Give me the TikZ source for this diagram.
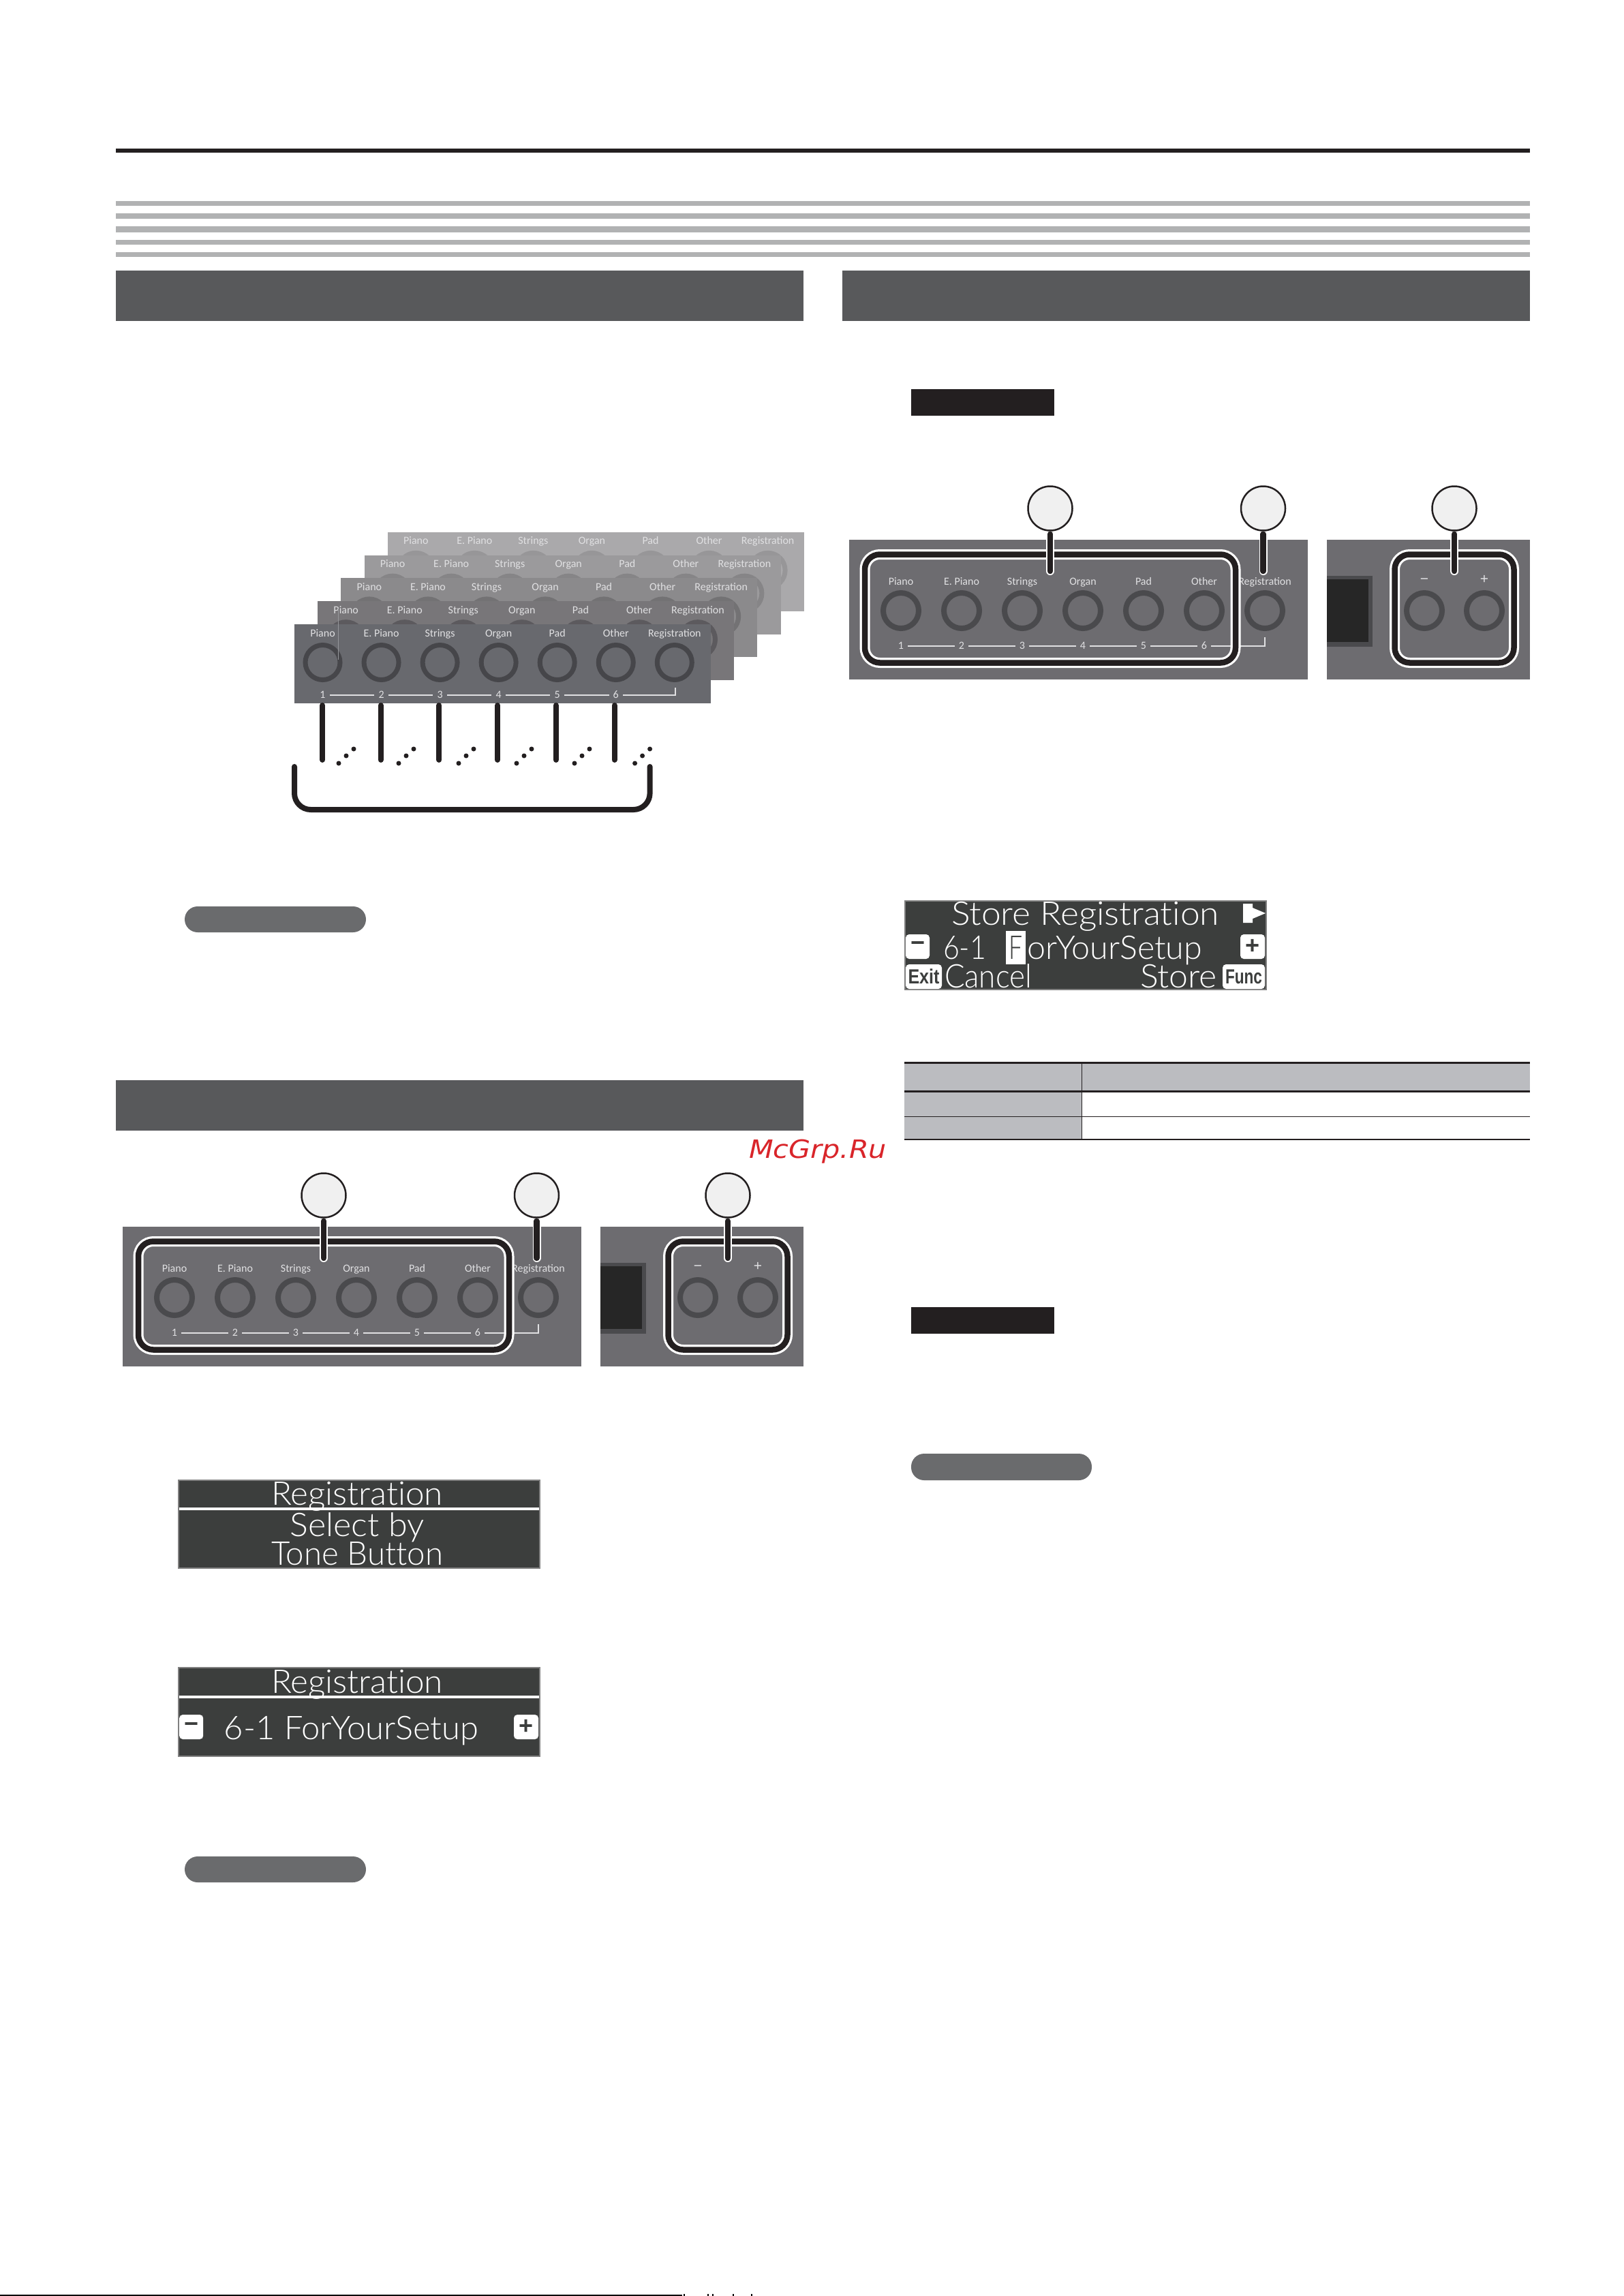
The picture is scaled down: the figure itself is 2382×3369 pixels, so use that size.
\documentclass[tikz,border=0pt]{standalone}
\usepackage{fontspec}
\setmainfont{Liberation Sans}
\newfontfamily\lcdface[UprightFont=* Light,Ligatures=NoCommon]{Lato}
\newfontfamily\panelface{Carlito}
\newfontfamily\markface{DejaVu Sans}
\definecolor{inkblack}{HTML}{231F20}
\definecolor{stripegray}{HTML}{B1B2B3}
\definecolor{barcolor}{HTML}{58595B}
\definecolor{pillcolor}{HTML}{6A6B6D}
\definecolor{panelgray}{HTML}{6D6C70}
\definecolor{ringgray}{HTML}{4A4A4D}
\definecolor{labelgray}{HTML}{E0E0E2}
\definecolor{lcdgray}{HTML}{3C3E3D}
\definecolor{tablegray}{HTML}{BBBCC0}
\definecolor{stack0}{HTML}{68696E}
\definecolor{stack1}{HTML}{787679}
\definecolor{stack2}{HTML}{8B8A8C}
\definecolor{stack3}{HTML}{9B9A9C}
\definecolor{stack4}{HTML}{AAA9AB}
\definecolor{stackring0}{HTML}{46464A}
\definecolor{stackring1}{HTML}{5C5A5E}
\definecolor{stackring2}{HTML}{737274}
\definecolor{stackring3}{HTML}{868587}
\definecolor{stackring4}{HTML}{979698}
\definecolor{markred}{HTML}{D9252A}
\usetikzlibrary{positioning}
\tikzset{
	ring/.style={line width=7pt},
	paneltext/.style={text=labelgray, inner sep=0pt, text height=11pt, text depth=3pt, font=\panelface\fontsize{16}{18}\selectfont},
	numtext/.style={paneltext, inner xsep=6pt},
	signtext/.style={paneltext, font=\fontsize{21}{22}\selectfont},
	panelline/.style={labelgray, line width=1.5pt},
	tick/.style={inkblack, line width=8pt, line cap=round},
	dotmark/.style={inkblack},
	boxwhite/.style={white, line width=15pt, rounded corners=22pt},
	boxblack/.style={inkblack, line width=8.5pt, rounded corners=22pt},
	leadwhite/.style={white, line width=12pt, line cap=round, shorten <=6pt},
	leadblack/.style={inkblack, line width=8.5pt, line cap=round, shorten <=4pt},
	callout/.style={circle, draw=inkblack, fill=gray!12, line width=2.5pt, minimum size=65pt, inner sep=0pt},
	lcdtext/.style={text=white, anchor=base, inner sep=0pt},
	lcdbadge/.style={fill=white, text=lcdgray, rounded corners=5pt, inner sep=0pt, font=\bfseries\fontsize{36}{36}\selectfont},
	lcdframe/.style={fill=lcdgray, draw=gray, line width=2pt},
}
\newcommand{\lcdtxt}[2]{\resizebox{#1pt}{\height}{\lcdface\fontsize{48}{50}\selectfont #2}}
\newcommand{\badgetxt}[2]{\resizebox{#1pt}{\height}{\bfseries\fontsize{30}{30}\selectfont #2}}
% panel with the seven buttons and the - + part, arg: x shift, y shift, name
\newcommand{\btnpanel}[3]{
	\begin{scope}[shift={(#1,#2)}]
		\fill[panelgray] (180,1800) rectangle (853,2005);
		\fill[panelgray] (881,1800) rectangle (1179,2005);
		\foreach \k/\lab in {1/Piano,2/E. Piano,3/Strings,4/Organ,5/Pad,6/Other,7/Registration} {
			\draw[line width=8pt, ringgray] ({256+(\k-1)*89},1904) circle (26);
			\node[paneltext] (#3lab\k) at ({256+(\k-1)*89},1862) {\lab};
		}
		\foreach \k in {1,...,6} {
			\node[numtext] (#3num\k) at ({256+(\k-1)*89},1956) {\k};
		}
		\foreach \k [evaluate=\k as \j using int(\k+1)] in {1,...,5} {
			\draw[panelline] (#3num\k.east) -- (#3num\j.west);
		}
		\coordinate (#3end) at (790,1943);
		\draw[panelline] (#3num6.east) -| (#3end);
		% display edge
		\fill[ringgray] (881,1853) rectangle (948,1957);
		\fill[black!85] (881,1858) rectangle (942,1950);
		\draw[line width=8pt, ringgray] (1024,1904) circle (26);
		\draw[line width=8pt, ringgray] (1112,1904) circle (26);
		\node[signtext] (#3minus) at (1024,1860) {−};
		\node[signtext] (#3plus) at (1112,1860) {+};
		% highlight boxes
		\draw[boxwhite] (203,1821.5) rectangle (747,1980.5);
		\draw[boxblack] (203,1821.5) rectangle (747,1980.5);
		\draw[boxwhite] (980.5,1821.5) rectangle (1155.5,1980.5);
		\draw[boxblack] (980.5,1821.5) rectangle (1155.5,1980.5);
		% callouts
		\node[callout] (#3pickA) at (475,1754) {};
		\node[callout] (#3pickB) at (787.5,1754) {};
		\node[callout] (#3pickC) at (1068,1754) {};
		\foreach \p/\px in {A/475,B/787.5,C/1068} {
			\coordinate (#3tip\p) at (\px,1846);
			\draw[leadwhite] (#3pick\p.south) -- (#3tip\p);
			\draw[leadblack] (#3pick\p.south) -- (#3tip\p);
		}
	\end{scope}
}

\begin{document}
\begin{tikzpicture}[x=1pt,y=-1pt]
	\useasboundingbox[fill=white] (0,0) rectangle (2382,3369);
	% header rules
	\fill[inkblack] (170,218) rectangle (2245,224);
	\fill[stripegray] (170,295) rectangle (2245,302);
	\fill[stripegray] (170,313) rectangle (2245,321);
	\fill[stripegray] (170,332) rectangle (2245,341);
	\fill[stripegray] (170,352) rectangle (2245,359);
	\fill[stripegray] (170,370) rectangle (2245,377);
	% section bars
	\fill[barcolor] (170,397) rectangle (1179,471);
	\fill[barcolor] (1236,397) rectangle (2245,471);
	\fill[barcolor] (170,1585) rectangle (1179,1659);
	% stacked panels
	\foreach \n in {4,3,2,1,0} {
		\begin{scope}[shift={(\n*34.2,\n*-33.8)}]
			\fill[stack\n] (432,916) rectangle (1043,1032);
			\foreach \k/\lab in {1/Piano,2/E. Piano,3/Strings,4/Organ,5/Pad,6/Other,7/Registration} {
				\draw[ring, stackring\n] ({473.5+(\k-1)*86.05},972) circle (25.5);
				\node[paneltext] (stk\n lab\k) at ({473.5+(\k-1)*86.05},930) {\lab};
			}
		\end{scope}
	}
	\foreach \k in {1,...,6} {
		\node[numtext] (num\k) at ({473.5+(\k-1)*86.05},1020) {\k};
	}
	\foreach \k [evaluate=\k as \j using int(\k+1)] in {1,...,5} {
		\draw[panelline] (num\k.east) -- (num\j.west);
	}
	\coordinate (numEnd) at (991,1009);
	\draw[panelline] (num6.east) -| (numEnd);
	\draw[stack0!70!white, line width=0.5pt] (496.4,893) -- (496.4,968);
	% ticks and dots below the stack
	\foreach \k in {1,...,6} {
		\coordinate (tickA\k) at ({473+(\k-1)*85.7},1035);
		\coordinate (tickB\k) at ({473+(\k-1)*85.7},1115);
		\draw[tick] (tickA\k) -- (tickB\k);
	}
	\foreach \x in {497,585,673,758,843,931.6} {
		\fill[dotmark] (\x,1120) circle (3.5);
		\fill[dotmark] (\x+11,1109) circle (3.5);
		\fill[dotmark] (\x+22,1099) circle (3.5);
	}
	\coordinate (brackL) at (432,1125);
	\coordinate (brackR) at (953.6,1125);
	\draw[inkblack, line width=8pt, line cap=round, rounded corners=24pt] (brackL) -- (432,1188) -- (953.6,1188) -- (brackR);
	% button panels
	\btnpanel{0}{0}{lower}
	\btnpanel{1066}{-1008}{upper}
	% black labels
	\fill[inkblack] (1337,571) rectangle (1547,610);
	\fill[inkblack] (1337,1918) rectangle (1547,1957);
	% gray pills
	\fill[pillcolor, rounded corners=19pt] (271,1330) rectangle (537,1368);
	\fill[pillcolor, rounded corners=19pt] (271,2724) rectangle (537,2762);
	\fill[pillcolor, rounded corners=19pt] (1337,2133) rectangle (1602,2172);
	% first display
	\draw[lcdframe] (262,2172) rectangle (792,2301);
	\fill[white] (263,2212) rectangle (791,2216);
	\node[lcdtext] (dispOneTitle) at (524,2208) {\lcdtxt{252}{Registration}};
	\node[lcdtext] (dispOneA) at (524,2254) {\lcdtxt{197}{Select by}};
	\node[lcdtext] (dispOneB) at (524,2296) {\lcdtxt{252}{Tone Button}};
	% second display
	\draw[lcdframe] (262,2447) rectangle (792,2577);
	\fill[white] (263,2488) rectangle (791,2492);
	\node[lcdtext] (dispTwoTitle) at (524,2484) {\lcdtxt{252}{Registration}};
	\node[lcdtext] (dispTwoName) at (515.5,2552) {\lcdtxt{373}{6-1 ForYourSetup}};
	\node[lcdbadge, minimum width=35pt, minimum height=36pt] (dispTwoMinus) at (280.7,2534) {−};
	\node[lcdbadge, minimum width=36pt, minimum height=36pt] (dispTwoPlus) at (772,2534) {+};
	% store display
	\draw[lcdframe] (1328,1322) rectangle (1858,1452);
	\node[lcdtext] (dispThreeTitle) at (1592.5,1357) {\lcdtxt{393}{Store Registration}};
	\fill[white] (1824,1326) -- (1838,1326) -- (1838,1332) -- (1857,1340) -- (1838,1348) -- (1838,1354) -- (1824,1354) -- cycle;
	\node[lcdbadge, minimum width=35pt, minimum height=36pt] (dispThreeMinus) at (1346.5,1389) {−};
	\node[lcdtext] (dispThreeNum) at (1415.5,1407) {\lcdtxt{63}{6-1}};
	\fill[white] (1476,1366) rectangle (1505,1415);
	\node[lcdtext, text=lcdgray] (dispThreeCur) at (1490.5,1407) {\lcdtxt{20}{F}};
	\node[lcdtext] (dispThreeName) at (1635.5,1407) {\lcdtxt{257}{orYourSetup}};
	\node[lcdbadge, minimum width=36pt, minimum height=36pt] (dispThreePlus) at (1838,1389) {+};
	\node[lcdbadge, minimum width=53pt, minimum height=36pt] (dispThreeExit) at (1355.5,1433) {\badgetxt{46}{Exit}};
	\node[lcdtext] (dispThreeCancel) at (1450,1449) {\lcdtxt{128}{Cancel}};
	\node[lcdtext] (dispThreeStore) at (1729.5,1449) {\lcdtxt{113}{Store}};
	\node[lcdbadge, minimum width=62pt, minimum height=36pt] (dispThreeFunc) at (1825,1433) {\badgetxt{54}{Func}};
	% table
	\fill[tablegray] (1327,1561) rectangle (2245,1600);
	\fill[tablegray] (1327,1603) rectangle (1587,1672);
	\fill[inkblack] (1327,1558) rectangle (2245,1561);
	\fill[inkblack] (1327,1600) rectangle (2245,1603);
	\draw[inkblack, line width=1.5pt] (1327,1638.5) -- (2245,1638.5);
	\draw[inkblack, line width=1.5pt] (1327,1672) -- (2245,1672);
	\draw[inkblack, line width=1.5pt] (1587.5,1561) -- (1587.5,1672);
	% watermark
	\node[text=markred, anchor=base, inner sep=0pt] (mark) at (1200,1699) {\resizebox{202pt}{\height}{\markface\itshape\fontsize{37}{40}\selectfont McGrp.Ru}};
	% page bottom
	\draw[black, line width=2pt] (0,3368) -- (1001,3368);
	\foreach \x in {1003,1038,1045,1075,1102} {
		\fill[black] (\x,3366) rectangle (\x+2,3369);
	}
\end{tikzpicture}
\end{document}
